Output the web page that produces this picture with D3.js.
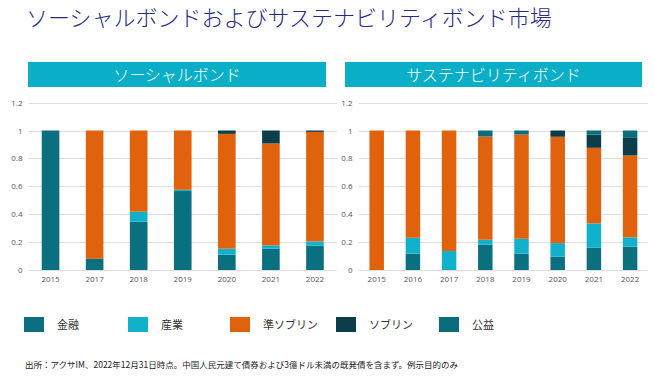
<!DOCTYPE html>
<html>
<head>
<meta charset="utf-8">
<script src="https://cdn.jsdelivr.net/npm/d3@7"></script>
<style>
  body { margin: 0; background: #fff; }
  svg { display: block; font-family: "Noto Sans CJK JP", "Noto Sans", sans-serif; }
</style>
</head>
<body>
<div id="chart"></div>
<script>
// series names, bottom to top of each stack
const seriesNames = ["金融", "産業", "準ソブリン", "ソブリン", "公益"];
const seriesColors = ["#0a707f", "#12b1cb", "#e0620d", "#0b3e4a", "#0b6d7b"];

// ソーシャルボンド
const socialYears = ["2015", "2017", "2018", "2019", "2020", "2021", "2022"];
const socialFinance = [1, 0.08, 0.346, 0.566, 0.11, 0.153, 0.174];
const socialIndustry = [0, 0, 0.072, 0.009, 0.043, 0.024, 0.031];
const socialQuasi = [0, 0.92, 0.582, 0.425, 0.823, 0.73, 0.785];
const socialSovereign = [0, 0, 0, 0, 0.024, 0.093, 0.01];
const socialUtility = [0, 0, 0, 0, 0, 0, 0];

// サステナビリティボンド
const sustYears = ["2015", "2016", "2017", "2018", "2019", "2020", "2021", "2022"];
const sustFinance = [0, 0.117, 0, 0.181, 0.117, 0.095, 0.16, 0.167];
const sustIndustry = [0, 0.114, 0.136, 0.036, 0.107, 0.098, 0.174, 0.067];
const sustQuasi = [1, 0.769, 0.864, 0.74, 0.747, 0.762, 0.542, 0.587];
const sustSovereign = [0, 0, 0, 0, 0, 0.045, 0.095, 0.126];
const sustUtility = [0, 0, 0, 0.043, 0.029, 0, 0.029, 0.053];

const yTicks = [0, 0.2, 0.4, 0.6, 0.8, 1, 1.2];

const width = 655, height = 389;

const svg = d3.select("#chart")
    .append("svg")
    .attr("width", width)
    .attr("height", height);

svg.append("text")
    .attr("x", 26)
    .attr("y", 26)
    .attr("font-size", 22)
    .attr("font-weight", 300)
    .attr("fill", "#27298a")
    .text("ソーシャルボンドおよびサステナビリティボンド市場");

function toRows(years, cols) {
    return years.map(function (yr, i) {
        let row = { year: yr };
        seriesNames.forEach(function (name, j) {
            row[name] = cols[j][i];
        });
        return row;
    });
}

function drawPanel(opts) {
    const y = d3.scaleLinear()
        .domain([0, 1.2])
        .range([270, 102.6]);

    const x = d3.scaleBand()
        .domain(opts.years)
        .range([opts.x0, opts.x1])
        .paddingInner(0.6)
        .paddingOuter(0.3);

    // header box
    svg.append("rect")
        .attr("x", opts.boxX0)
        .attr("y", 62)
        .attr("width", opts.boxX1 - opts.boxX0)
        .attr("height", 25)
        .attr("fill", "#0aafc7");

    svg.append("text")
        .attr("x", (opts.boxX0 + opts.boxX1) / 2)
        .attr("y", 75)
        .attr("dy", "0.35em")
        .attr("text-anchor", "middle")
        .attr("font-size", 16)
        .attr("font-weight", 300)
        .attr("fill", "#fff")
        .text(opts.title);

    // gridlines
    svg.append("g")
        .selectAll("line")
        .data(yTicks)
        .enter()
        .append("line")
        .attr("x1", opts.x0)
        .attr("x2", opts.x1)
        .attr("y1", d => Math.round(y(d)) + 0.5)
        .attr("y2", d => Math.round(y(d)) + 0.5)
        .attr("stroke", "#dedede")
        .attr("stroke-width", 1);

    // y axis labels
    const yAxis = svg.append("g")
        .attr("transform", "translate(" + (opts.x0 - 6) + ",0)")
        .call(d3.axisLeft(y).tickValues(yTicks).tickSize(0).tickPadding(0)
            .tickFormat(d => String(+d.toFixed(1))));
    yAxis.select(".domain").remove();
    yAxis.selectAll("text")
        .attr("font-size", 8)
        .attr("fill", "#595959")
        .attr("font-family", "'Open Sans', 'Noto Sans', sans-serif");

    // stacked bars
    const stack = d3.stack().keys(seriesNames);
    const layers = stack(toRows(opts.years, opts.cols));

    svg.append("g")
        .selectAll("g")
        .data(layers)
        .enter()
        .append("g")
        .attr("fill", (d, i) => seriesColors[i])
        .selectAll("rect")
        .data(d => d)
        .enter()
        .append("rect")
        .attr("x", d => x(d.data.year))
        .attr("width", x.bandwidth())
        .attr("y", d => y(d[1]))
        .attr("height", d => Math.max(0, y(d[0]) - y(d[1])));

    // x axis labels
    const xAxis = svg.append("g")
        .attr("transform", "translate(0,276)")
        .call(d3.axisBottom(x).tickSize(0).tickPadding(0));
    xAxis.select(".domain").remove();
    xAxis.selectAll("text")
        .attr("font-size", 8)
        .attr("fill", "#595959")
        .attr("font-family", "'Open Sans', 'Noto Sans', sans-serif");
}

drawPanel({
    title: "ソーシャルボンド",
    years: socialYears,
    cols: [socialFinance, socialIndustry, socialQuasi, socialSovereign, socialUtility],
    x0: 28.5, x1: 337,
    boxX0: 28, boxX1: 326
});

drawPanel({
    title: "サステナビリティボンド",
    years: sustYears,
    cols: [sustFinance, sustIndustry, sustQuasi, sustSovereign, sustUtility],
    x0: 358.6, x1: 648.2,
    boxX0: 345, boxX1: 642
});

// legend
const legendX = [24, 128, 230, 336, 439];
const legend = svg.append("g")
    .selectAll("g")
    .data(seriesNames)
    .enter()
    .append("g")
    .attr("transform", (d, i) => "translate(" + legendX[i] + ",317)");

legend.append("rect")
    .attr("width", 20)
    .attr("height", 15)
    .attr("fill", (d, i) => seriesColors[i]);

legend.append("text")
    .attr("x", 33)
    .attr("y", 8)
    .attr("dy", "0.35em")
    .attr("font-size", 11)
    .attr("fill", "#333")
    .text(d => d);

svg.append("text")
    .attr("x", 25)
    .attr("y", 368)
    .attr("font-size", 8.5)
    .attr("fill", "#222")
    .text("出所：アクサIM、2022年12月31日時点。中国人民元建て債券および3億ドル未満の既発債を含まず。例示目的のみ");
</script>
</body>
</html>
